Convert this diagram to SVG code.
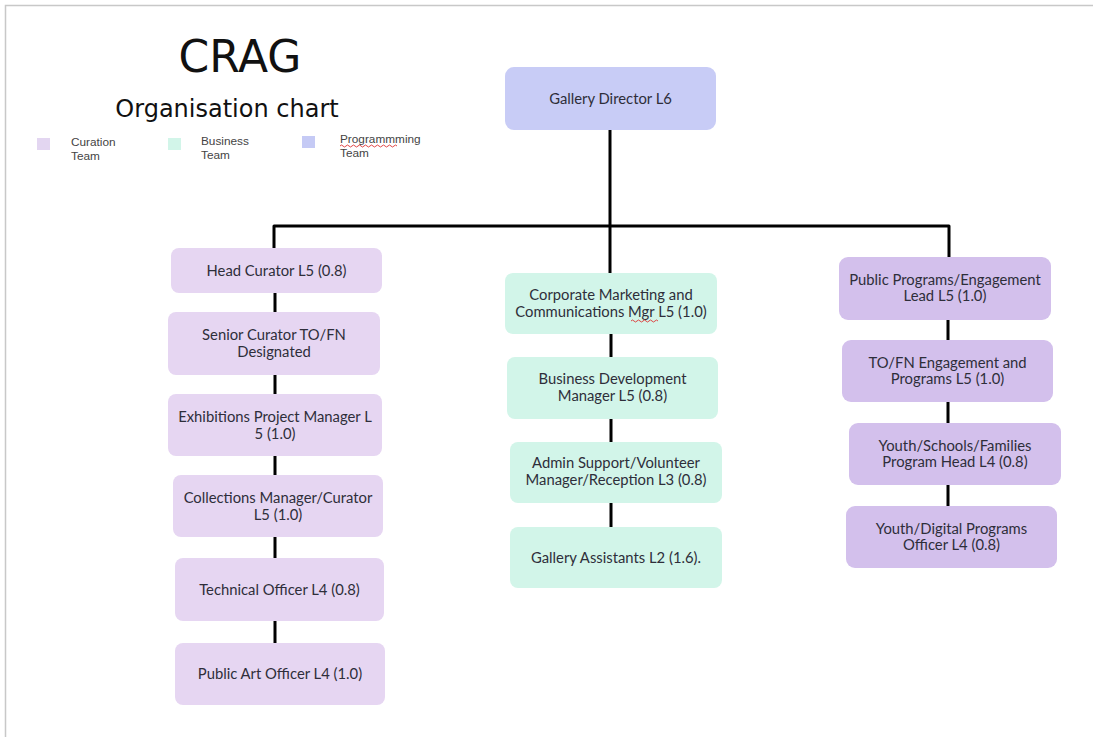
<svg xmlns="http://www.w3.org/2000/svg" width="1093" height="737" viewBox="0 0 1093 737">
<style>
.cur{fill:#e6d6f2}
.bus{fill:#d2f5e9}
.prog{fill:#d3c0ec}
.dir{fill:#c8ccf6}
.t{font-family:Lato,"Open Sans",sans-serif;font-size:14.8px;fill:#2e2e3a;text-anchor:middle}
.lg{font-family:"Liberation Sans",Arial,sans-serif;font-size:11.8px;fill:#444}
.ttl{font-family:"DejaVu Sans",Verdana,sans-serif;fill:#111;text-anchor:middle}
.conn{stroke:#000;stroke-width:3;fill:none;stroke-linejoin:round}
.sq{fill:none;stroke:#d33;stroke-width:0.9}
</style>
<rect x="0" y="0" width="1093" height="737" fill="#fff"/>
<path d="M5.5 737 V5.5 H1093" fill="none" stroke="#c8c8c8" stroke-width="1.5"/>
<g id="title">
<text class="ttl" x="240" y="72" font-size="44">CRAG</text>
<text class="ttl" x="227" y="117" font-size="24">Organisation chart</text>
</g>
<g id="legend">
<rect x="37" y="138" width="13" height="12" fill="#e3d6f1"/>
<text class="lg" x="71" y="146">Curation</text>
<text class="lg" x="71" y="160">Team</text>
<rect x="168" y="138" width="13" height="12" fill="#d2f5e9"/>
<text class="lg" x="201" y="145">Business</text>
<text class="lg" x="201" y="159">Team</text>
<rect x="302" y="136" width="13" height="12" fill="#c5caf5"/>
<text class="lg" x="340" y="143">Programmming</text>
<text class="lg" x="340" y="157">Team</text>
<path class="sq" d="M340 146 q1.5 -2 3 0 t3 0 t3 0 t3 0 t3 0 t3 0 t3 0 t3 0 t3 0 t3 0 t3 0 t3 0 t3 0 t3 0 t3 0 t3 0 t3 0 t3 0 t3 0"/>
</g>
<g id="connectors">
<path class="conn" d="M610 130 V273"/>
<path class="conn" d="M274 248 V226 H949 V257"/>
<path class="conn" d="M275 293 V312 M275 375 V394 M275 456 V475 M275 537 V558 M275 621 V643"/>
<path class="conn" d="M611 334 V357 M611 419 V442 M611 503 V527"/>
<path class="conn" d="M948 320 V340 M948 402 V423 M948 485 V506"/>
</g>
<g id="director"><rect class="dir" x="505" y="67" width="211" height="63" rx="9"/><text class="t" x="610.5" y="104">Gallery Director L6</text></g>
<g id="head-curator"><rect class="cur" x="171" y="248" width="211" height="45" rx="8"/><text class="t" x="276.5" y="275.5">Head Curator L5 (0.8)</text></g>
<g id="senior-curator"><rect class="cur" x="168" y="312" width="212" height="63" rx="8"/><text class="t" x="274" y="340">Senior Curator TO/FN</text><text class="t" x="274" y="357">Designated</text></g>
<g id="exhibitions"><rect class="cur" x="168" y="394" width="214" height="62" rx="8"/><text class="t" x="275" y="422">Exhibitions Project Manager L</text><text class="t" x="275" y="439">5 (1.0)</text></g>
<g id="collections"><rect class="cur" x="173" y="475" width="210" height="62" rx="8"/><text class="t" x="278" y="503">Collections Manager/Curator</text><text class="t" x="278" y="520">L5 (1.0)</text></g>
<g id="technical"><rect class="cur" x="175" y="558" width="209" height="63" rx="8"/><text class="t" x="279.5" y="594.5">Technical Officer L4 (0.8)</text></g>
<g id="public-art"><rect class="cur" x="175" y="643" width="210" height="62" rx="8"/><text class="t" x="280" y="679">Public Art Officer L4 (1.0)</text></g>
<g id="corporate"><rect class="bus" x="505" y="273" width="212" height="61" rx="8"/><text class="t" x="611" y="300">Corporate Marketing and</text><text class="t" x="611" y="317">Communications  Mgr L5 (1.0)</text><path class="sq" d="M631 321 q1.5 -2 3 0 t3 0 t3 0 t3 0 t3 0 t3 0 t3 0 t3 0 t3 0"/></g>
<g id="business-dev"><rect class="bus" x="507" y="357" width="211" height="62" rx="8"/><text class="t" x="612.5" y="384">Business Development</text><text class="t" x="612.5" y="401">Manager L5 (0.8)</text></g>
<g id="admin"><rect class="bus" x="510" y="442" width="212" height="61" rx="8"/><text class="t" x="616" y="468">Admin Support/Volunteer</text><text class="t" x="616" y="485">Manager/Reception L3 (0.8)</text></g>
<g id="gallery-assistants"><rect class="bus" x="510" y="527" width="212" height="61" rx="8"/><text class="t" x="616" y="562.5">Gallery Assistants L2 (1.6).</text></g>
<g id="public-programs"><rect class="prog" x="839" y="257" width="212" height="63" rx="9"/><text class="t" x="945" y="285">Public Programs/Engagement</text><text class="t" x="945" y="301">Lead L5 (1.0)</text></g>
<g id="tofn-engagement"><rect class="prog" x="842" y="340" width="211" height="62" rx="9"/><text class="t" x="947.5" y="368">TO/FN Engagement and</text><text class="t" x="947.5" y="384">Programs L5 (1.0)</text></g>
<g id="youth-schools"><rect class="prog" x="849" y="423" width="212" height="62" rx="9"/><text class="t" x="955" y="451">Youth/Schools/Families</text><text class="t" x="955" y="467">Program Head L4 (0.8)</text></g>
<g id="youth-digital"><rect class="prog" x="846" y="506" width="211" height="62" rx="9"/><text class="t" x="951.5" y="534">Youth/Digital Programs</text><text class="t" x="951.5" y="550">Officer L4 (0.8)</text></g>
</svg>
